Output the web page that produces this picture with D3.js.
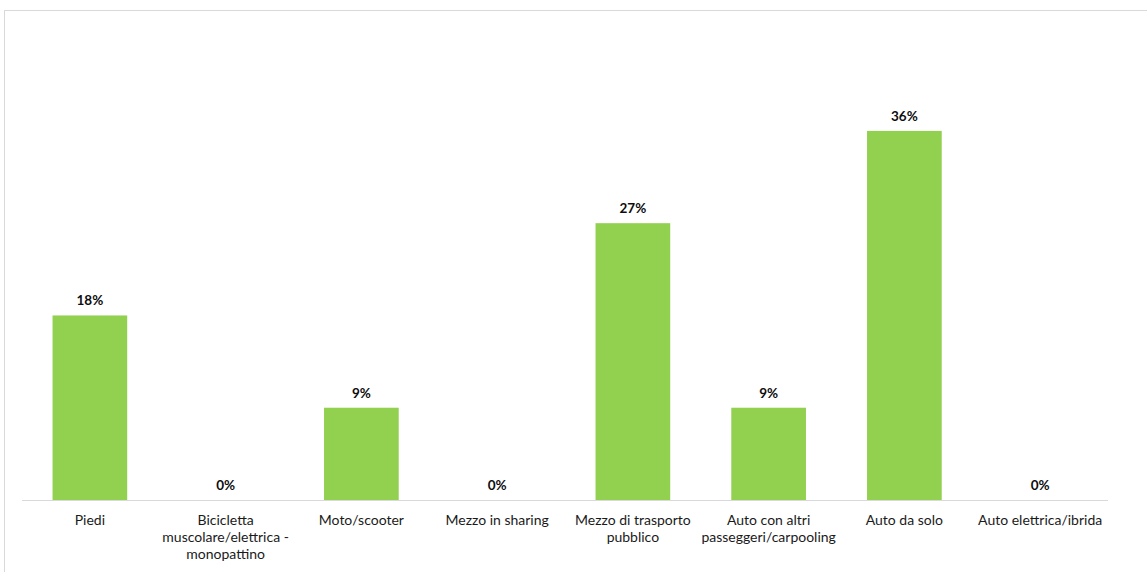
<!DOCTYPE html>
<html>
<head>
<meta charset="utf-8">
<script src="https://cdn.jsdelivr.net/npm/d3@7"></script>
<style>
  html, body { margin: 0; padding: 0; background: #fff; }
  svg { display: block; }
  text { font-family: "Lato", "Noto Sans", sans-serif; }
</style>
</head>
<body>
<svg id="chart" width="1147" height="572"></svg>
<script>
// Mezzo di spostamento utilizzato (%)
const categories = [
  "Piedi",
  "Bicicletta muscolare/elettrica - monopattino",
  "Moto/scooter",
  "Mezzo in sharing",
  "Mezzo di trasporto pubblico",
  "Auto con altri passeggeri/carpooling",
  "Auto da solo",
  "Auto elettrica/ibrida"
];
const tickLines = [
  ["Piedi"],
  ["Bicicletta", "muscolare/elettrica -", "monopattino"],
  ["Moto/scooter"],
  ["Mezzo in sharing"],
  ["Mezzo di trasporto", "pubblico"],
  ["Auto con altri", "passeggeri/carpooling"],
  ["Auto da solo"],
  ["Auto elettrica/ibrida"]
];
const values = [18, 0, 9, 0, 27, 9, 36, 0];
const valueLabels = ["18%", "0%", "9%", "0%", "27%", "9%", "36%", "0%"];

const svg = d3.select("#chart");
const W = 1147, H = 572;

// chart frame
svg.append("rect")
  .attr("x", 4.5).attr("y", 10.5)
  .attr("width", W + 10).attr("height", H + 10)
  .attr("fill", "#fff").attr("stroke", "#d9d9d9").attr("stroke-width", 1);

const plot = { left: 22, right: 1108, top: 94, bottom: 500 };

const x = d3.scaleBand()
  .domain(categories)
  .range([plot.left, plot.right])
  .paddingInner(0.45)
  .paddingOuter(0.225);

const y = d3.scaleLinear()
  .domain([0, 39.6])
  .range([plot.bottom, plot.top]);

// bars
svg.append("g").selectAll("rect")
  .data(categories)
  .join("rect")
  .attr("x", d => x(d))
  .attr("width", x.bandwidth())
  .attr("y", (d, i) => y(values[i]))
  .attr("height", (d, i) => y(0) - y(values[i]))
  .attr("fill", "#92d050");

// category axis
const xAxis = d3.axisBottom(x).tickSize(0).tickFormat(() => "");
const ax = svg.append("g")
  .attr("transform", `translate(0,${plot.bottom})`)
  .call(xAxis);
ax.select(".domain").attr("stroke", "#d9d9d9").attr("stroke-width", 1)
  .attr("d", `M${plot.left},0.5H${plot.right}`);

ax.selectAll(".tick text").remove();
ax.selectAll(".tick").each(function(d, i) {
  const t = d3.select(this).append("text")
    .attr("text-anchor", "middle")
    .attr("fill", "#1a1a1a")
    .attr("font-size", 14)
    .attr("y", 25);
  tickLines[i].forEach((line, k) => {
    t.append("tspan").attr("x", 0).attr("dy", k === 0 ? 0 : 17).text(line);
  });
});

// value labels
svg.append("g").selectAll("text")
  .data(categories)
  .join("text")
  .attr("x", d => x(d) + x.bandwidth() / 2)
  .attr("y", (d, i) => y(values[i]) - 10)
  .attr("text-anchor", "middle")
  .attr("font-size", 13.5)
  .attr("font-weight", "bold")
  .attr("fill", "#0d0d0d")
  .text((d, i) => valueLabels[i]);
</script>
</body>
</html>
